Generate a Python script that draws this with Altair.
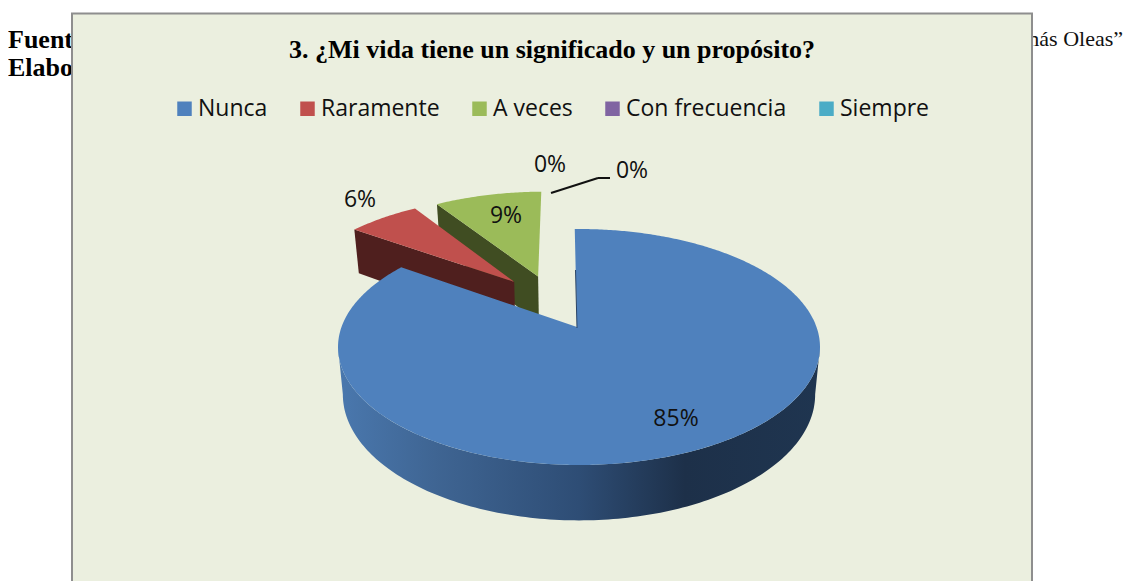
import math
import altair as alt

# ---- values
categories = ["Nunca", "Raramente", "A veces", "Con frecuencia", "Siempre"]
shares = [85, 6, 9, 0, 0]
colors = ["#4F81BD", "#C0504D", "#9BBB59", "#8064A2", "#4BACC6"]
dark_sides = {"Raramente": "#4F1F1E", "A veces": "#404D22"}
title_text = "3. ¿Mi vida tiene un significado y un propósito?"

# ---- layout (page pixels, page margin is 8)
M = 8
W, H = 1122, 573
CX, CY, RX, RY, K = 579, 327, 237.5, 114.6, 0.1695
DEPTH, DEPTH_SLICE, SHRINK = 46, 51, 0.98
ROT = math.radians(-1.2)
APEX_U = -0.0085
EXPLODE = {"Nunca": (0, 0), "Raramente": (-0.284, 0.422), "A veces": (-0.1776, 0.477)}
label_pos = [(676, 419), (360, 200), (506, 216), (550, 165), (632, 171)]


def top(u, v):
    d = 1 + K * v
    return CX + RX * u / d - M, CY - RY * v / d - M


def low(u, v, depth):
    x, y = top(u, v)
    return CX - M + SHRINK * (x - CX + M), y + depth / (1 + K * v)


def rim(a, off):
    return off[0] + math.sin(a), off[1] + math.cos(a)


def apex(off):
    return off[0] + APEX_U, off[1]


def steps(a, b, n=None):
    n = n or max(2, int(abs(b - a) * 90))
    return [a + (b - a) * i / n for i in range(n + 1)]


def feature(name, ring):
    ring = [list(p) for p in ring] + [list(ring[0])]
    return {"type": "Feature", "properties": {"name": name},
            "geometry": {"type": "Polygon", "coordinates": [ring]}}


# slice angles come from the shares
starts, acc = {}, 0
for c, s in zip(categories, shares):
    starts[c] = (ROT + acc / 100 * 2 * math.pi, ROT + (acc + s) / 100 * 2 * math.pi)
    acc += s


def top_face(name):
    a, b = starts[name]
    off = EXPLODE[name]
    return feature(name, [top(*apex(off))] + [top(*rim(t, off)) for t in steps(a, b)])


def cut_wall(name):
    a, _ = starts[name]
    off = EXPLODE[name]
    r = rim(a, off)
    p = apex(off)
    return feature(name, [top(*p), top(*r), low(*r, DEPTH_SLICE), low(*p, DEPTH_SLICE)])


# silhouette of the disk: where the rim is widest in the projection
sil = math.acos(-K)
front = steps(sil, 2 * math.pi - sil, 160)
blue_wall = feature("Nunca",
                    [top(math.sin(t), math.cos(t)) for t in front] +
                    [low(math.sin(t), math.cos(t), DEPTH) for t in reversed(front)])

legend = alt.Legend(title=None, orient="none", legendX=165, legendY=89, direction="horizontal",
                    columns=5, symbolType="square", symbolSize=210, symbolStrokeWidth=0,
                    labelFont="Open Sans", labelFontSize=23, labelColor="#111111",
                    labelOffset=2, columnPadding=28, symbolOpacity=1, labelLimit=300)
color = alt.Color("properties.name:N", scale=alt.Scale(domain=categories, range=colors), legend=legend)


def shape_fill(features, fill):
    return (alt.Chart(alt.Data(values=features)).mark_geoshape(fill=fill, strokeWidth=0)
            .project(type="identity", scale=1, translate=[0, 0]))


def shape_color(features):
    return (alt.Chart(alt.Data(values=features)).mark_geoshape(strokeWidth=0)
            .encode(color=color).project(type="identity", scale=1, translate=[0, 0]))


def text(t, x, y, size=23, font="Open Sans", weight="normal", align="center", col="#111111"):
    return (alt.Chart(alt.Data(values=[{"t": t}]))
            .mark_text(font=font, fontSize=size, fontWeight=weight, align=align, baseline="middle", color=col)
            .encode(text="t:N", x=alt.value(x - M), y=alt.value(y - M)))


def rule(x1, y1, x2, y2, col="#111111", w=2):
    return alt.Chart(alt.Data(values=[{"a": 1}])).mark_rule(color=col, strokeWidth=w).encode(
        x=alt.value(x1 - M), y=alt.value(y1 - M), x2=alt.value(x2 - M), y2=alt.value(y2 - M))


box = alt.Chart(alt.Data(values=[{"a": 1}])).mark_rect(fill="#EBEFDF", stroke="#8E8E8E", strokeWidth=2).encode(
    x=alt.value(72 - M), x2=alt.value(1032 - M), y=alt.value(13.5 - M), y2=alt.value(H + 20))

blue_side = alt.LinearGradient(
    gradient="linear", x1=0, x2=1, y1=0, y2=0,
    stops=[alt.GradientStop(color="#4A78AE", offset=0),
           alt.GradientStop(color="#3F6593", offset=0.2),
           alt.GradientStop(color="#2E4D75", offset=0.5),
           alt.GradientStop(color="#1D3049", offset=0.72),
           alt.GradientStop(color="#1F3550", offset=1)])

layers = [
    text("Fuente:", 8, 40, size=26, font="Liberation Serif", weight="bold", align="left", col="#000000"),
    text("Elaboración:", 8, 68, size=26, font="Liberation Serif", weight="bold", align="left", col="#000000"),
    text("Tomás Oleas”", 1123, 39, size=22, font="Liberation Serif", align="right"),
    box,
    shape_fill([cut_wall("A veces")], dark_sides["A veces"]),
    shape_fill([cut_wall("Raramente")], dark_sides["Raramente"]),
    shape_color([top_face("A veces"), top_face("Raramente")]),
    shape_fill([blue_wall], blue_side),
    shape_color([top_face("Nunca")]),
    rule(575.5, 270, 577, 328, col="#2A4466", w=1),
    text(title_text, 552, 50, size=26, font="Liberation Serif", weight="bold", col="#000000"),
    rule(551, 193, 598, 178),
    rule(598, 178, 610, 178),
]
for s, (x, y) in zip(shares, label_pos):
    layers.append(text(f"{s}%", x, y))

chart = alt.layer(*layers).properties(
    width=W, height=H, padding=0, background="white",
    autosize=alt.AutoSizeParams(type="none"),
).configure_view(stroke=None).resolve_scale(color="shared")

chart.save("out.html", embed_options={"renderer": "svg", "actions": False})
